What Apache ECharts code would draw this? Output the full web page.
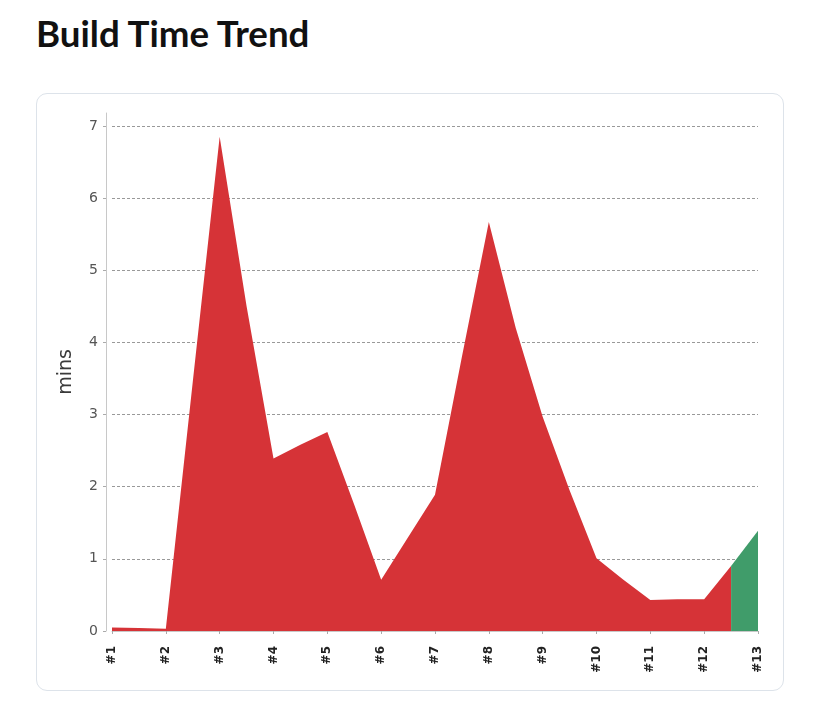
<!DOCTYPE html>
<html>
<head>
<meta charset="utf-8">
<title>Build Time Trend</title>
<script src="https://cdn.jsdelivr.net/npm/echarts@6/dist/echarts.min.js"></script>
<style>
    html, body { margin: 0; padding: 0; background: #fff; }
    body { width: 839px; height: 701px; position: relative; overflow: hidden; }
    h1 {
        position: absolute; left: 36px; top: 10px; margin: 0;
        font-family: "Lato", "Noto Sans", sans-serif; font-weight: 700;
        font-size: 36.7px; line-height: 46px; color: #111;
    }
    .card {
        position: absolute; left: 36px; top: 93px; width: 748px; height: 598px;
        border: 1px solid #dde3ea; border-radius: 11px; box-sizing: border-box;
    }
    #chart { position: absolute; left: 0; top: 0; width: 839px; height: 701px; }
</style>
</head>
<body>
<h1>Build Time Trend</h1>
<div class="card"></div>
<div id="chart"></div>
<script>
// build labels on the x axis
var buildLabels = ['#1', '#2', '#3', '#4', '#5', '#6', '#7', '#8', '#9', '#10', '#11', '#12', '#13'];
// sample positions (builds and the midpoints between them)
var samplePos = [1, 1.5, 2, 2.5, 3, 3.5, 4, 4.5, 5, 5.5, 6, 6.5, 7, 7.5, 8, 8.5, 9, 9.5, 10, 10.5, 11, 11.5, 12, 12.5, 13];
// duration in minutes read at each position
var durationMins = [0.05, 0.04, 0.03, 3.45, 6.85, 4.5, 2.39, 2.58, 2.76, 1.75, 0.71, 1.30, 1.89, 3.8, 5.67, 4.2, 2.97, 1.95, 1.01, 0.71, 0.43, 0.44, 0.44, 0.9, 1.39];
// y axis ticks
var yTicks = [0, 1, 2, 3, 4, 5, 6, 7];
// last build succeeded, the ones before failed; colour switches at 12.5
var switchPos = 12.5;

var failedData = [];
var successData = [];
for (var i = 0; i < samplePos.length; i++) {
    if (samplePos[i] <= switchPos) failedData.push([samplePos[i], durationMins[i]]);
    if (samplePos[i] >= switchPos) successData.push([samplePos[i], durationMins[i]]);
}

var myChart = echarts.init(document.getElementById('chart'));
var option = {
    animation: false,
    grid: { left: 112, right: 81, top: 113, bottom: 70 },
    xAxis: {
        type: 'value',
        min: 1,
        max: 13,
        interval: 1,
        offset: 7,
        axisLine: { show: true, lineStyle: { color: '#c8c8c8' } },
        axisTick: { show: true, length: 3, lineStyle: { color: '#aaa' } },
        splitLine: { show: false },
        axisLabel: {
            rotate: 90,
            margin: 8,
            color: '#222',
            fontFamily: 'DejaVu Sans',
            fontSize: 12,
            fontWeight: 'bold',
            formatter: function (v) { return buildLabels[v - 1]; }
        }
    },
    yAxis: {
        type: 'value',
        min: 0,
        max: 7.18,
        offset: 6,
        name: 'mins',
        nameLocation: 'middle',
        nameGap: 30,
        nameTextStyle: { color: '#3a3a3a', fontFamily: 'DejaVu Sans', fontSize: 19 },
        axisLine: { show: true, lineStyle: { color: '#c8c8c8' } },
        axisTick: { show: true, length: 3, lineStyle: { color: '#aaa' }, customValues: yTicks },
        axisLabel: { color: '#555', fontFamily: 'DejaVu Sans', fontSize: 14, margin: 8, customValues: yTicks },
        splitLine: { show: true, lineStyle: { color: '#999', type: [3, 2], width: 1 } }
    },
    series: [{
        name: 'failed',
        type: 'line',
        data: failedData,
        showSymbol: false,
        lineStyle: { width: 0 },
        areaStyle: { color: '#d63337', opacity: 1 },
        z: 3
    }, {
        name: 'success',
        type: 'line',
        data: successData,
        showSymbol: false,
        lineStyle: { width: 0 },
        areaStyle: { color: '#409c6a', opacity: 1 },
        z: 3
    }]
};
myChart.setOption(option);
</script>
</body>
</html>
